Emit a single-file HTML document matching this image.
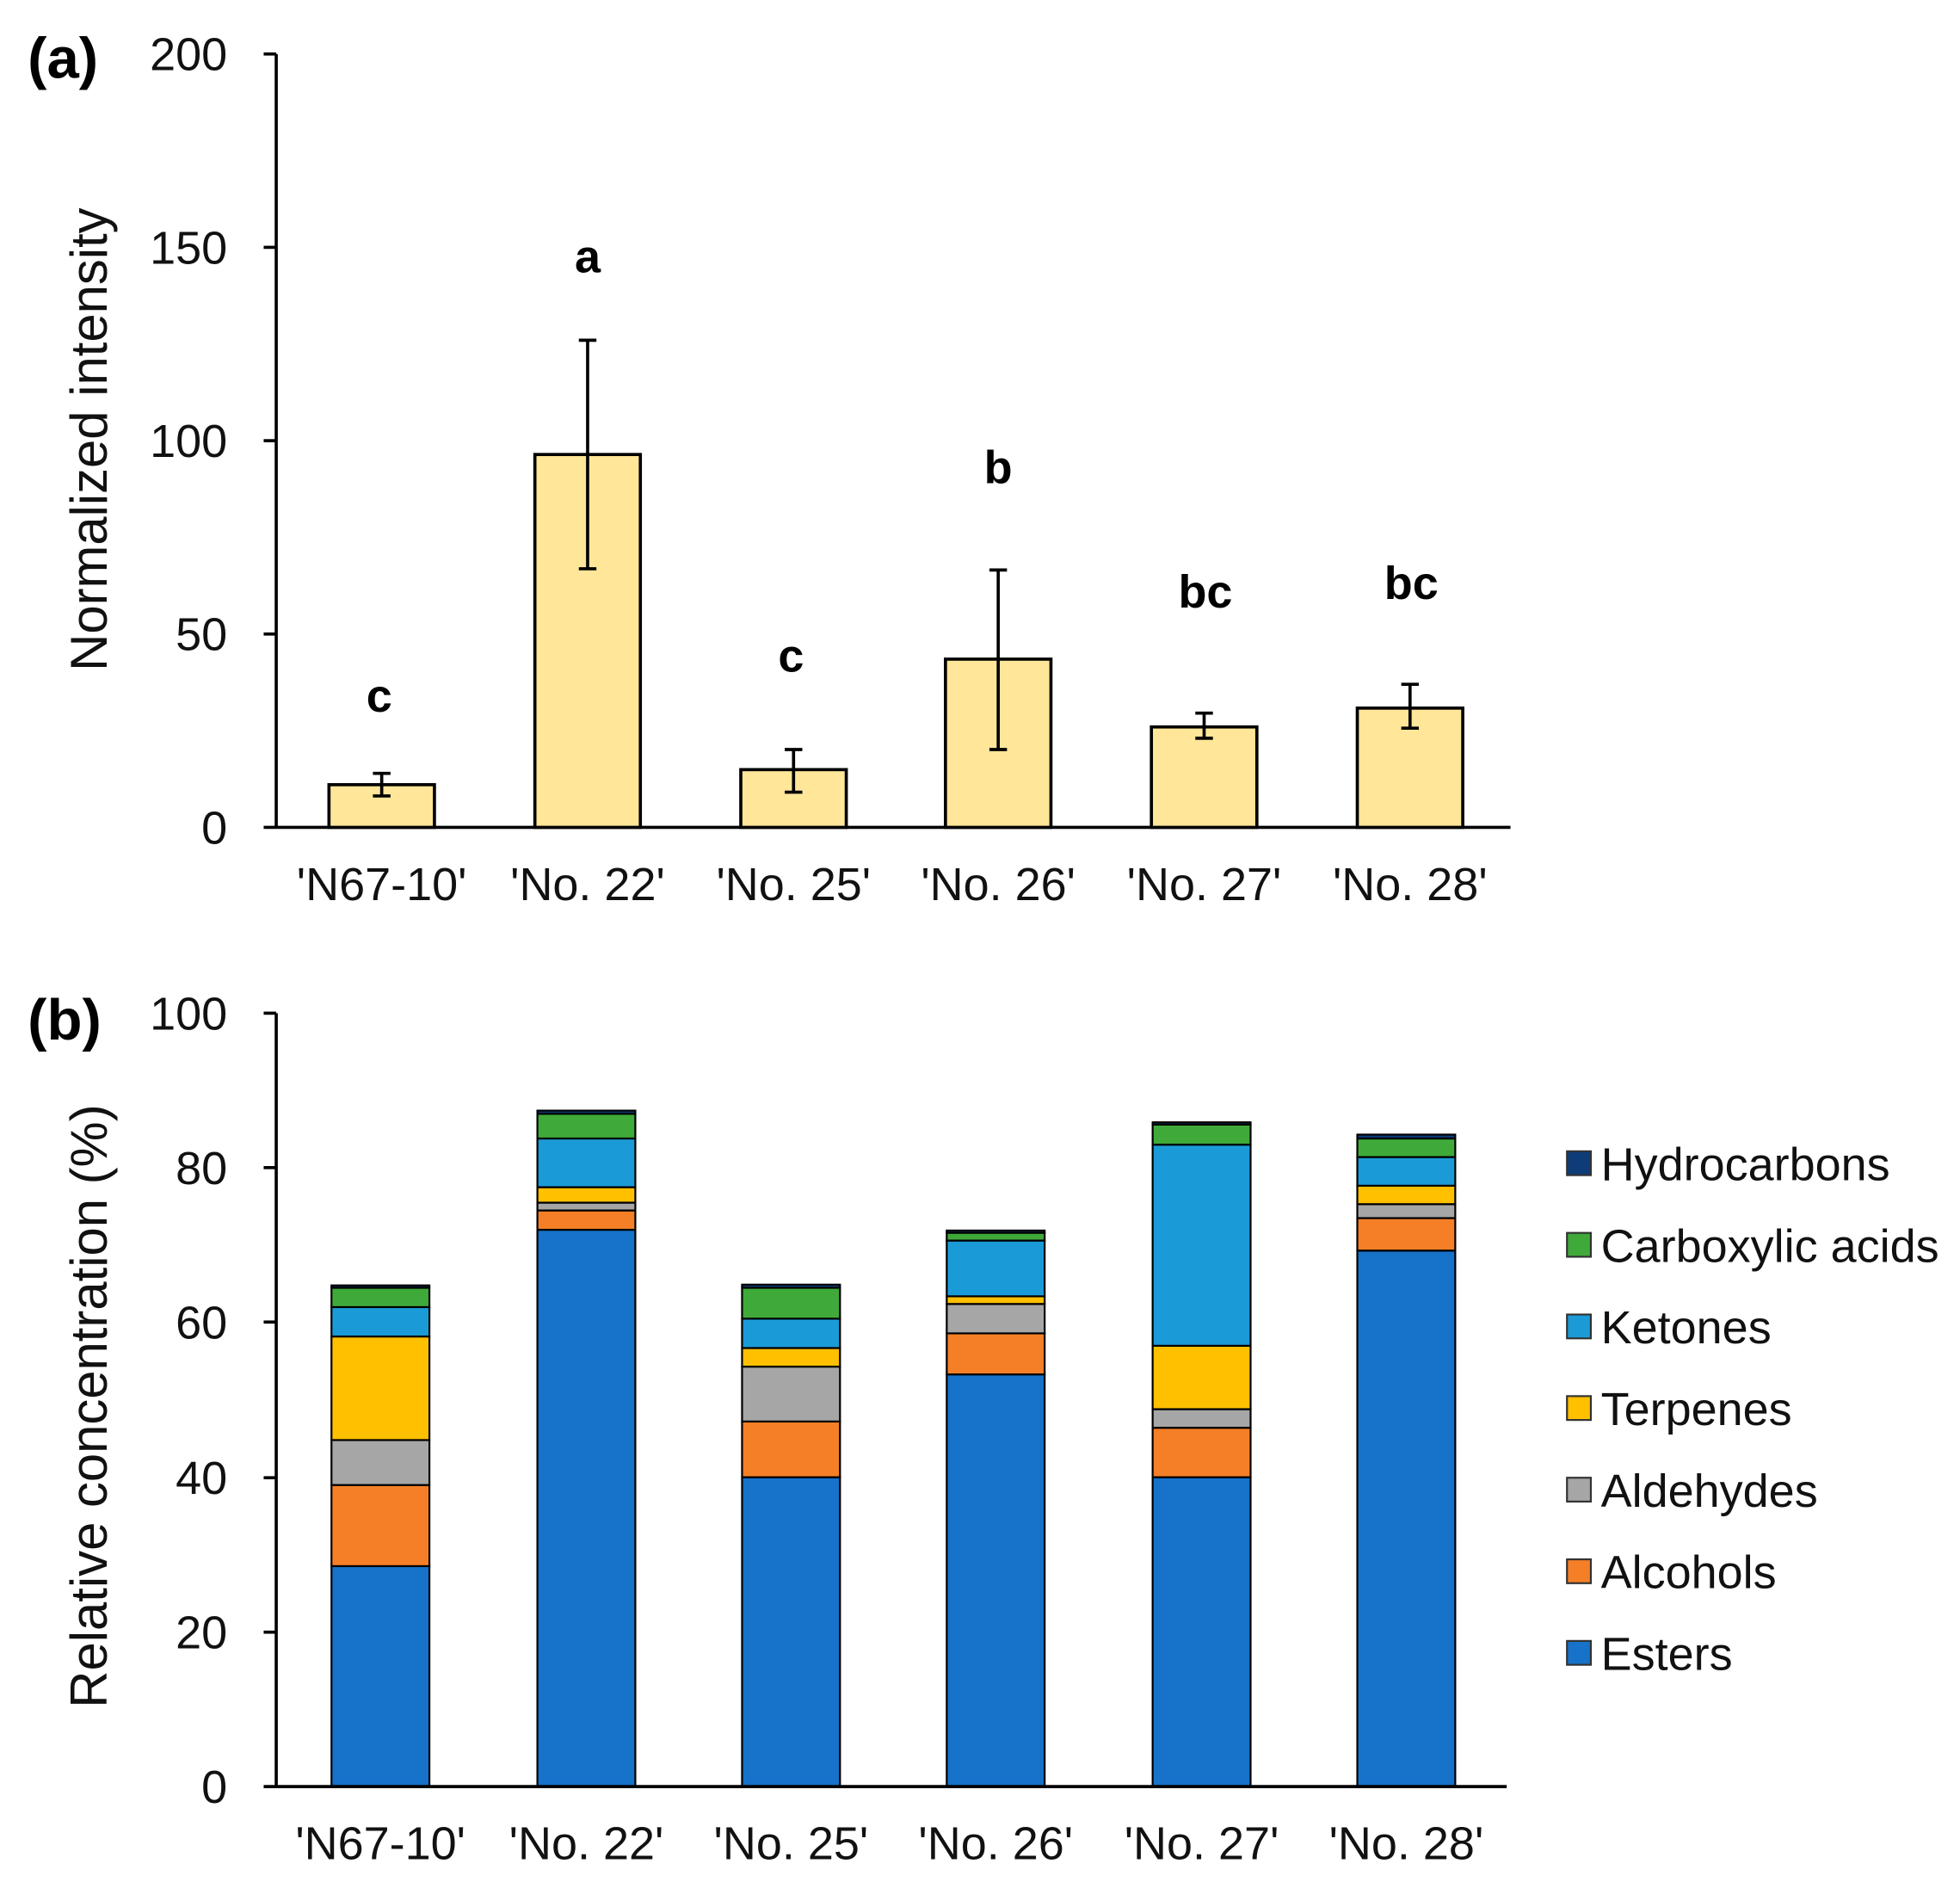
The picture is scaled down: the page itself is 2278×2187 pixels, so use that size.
<!DOCTYPE html>
<html><head><meta charset="utf-8"><style>html,body{margin:0;padding:0;background:#fff}svg{display:block}text{font-family:"Liberation Sans",Arial,sans-serif}</style></head><body>
<svg width="2278" height="2187" viewBox="0 0 1561 1499" preserveAspectRatio="none" xmlns="http://www.w3.org/2000/svg">
<g font-size="37" fill="#111" text-anchor="end">
<text x="181" y="56">200</text><text x="181" y="210">150</text><text x="181" y="364">100</text><text x="181" y="518">50</text><text x="181" y="672">0</text>
</g>
<g stroke="#000" stroke-width="2.5">
<line x1="220" y1="43" x2="220" y2="659"/><line x1="210" y1="659" x2="1203" y2="659"/>
<line x1="210" y1="43" x2="220" y2="43"/><line x1="210" y1="197" x2="220" y2="197"/><line x1="210" y1="351" x2="220" y2="351"/><line x1="210" y1="505" x2="220" y2="505"/>
</g>
<text x="85" y="350" font-size="41" fill="#111" text-anchor="middle" transform="rotate(-90 85 350)">Normalized intensity</text>
<text x="22" y="62" font-size="46" font-weight="bold">(a)</text>
<g fill="#FFE699" stroke="#000" stroke-width="2.5">
<rect x="262" y="625" width="84" height="34"/><rect x="426" y="362" width="84" height="297"/><rect x="590" y="613" width="84" height="46"/><rect x="753" y="525" width="84" height="134"/><rect x="917" y="579" width="84" height="80"/><rect x="1081" y="564" width="84" height="95"/>
</g>
<g stroke="#000" stroke-width="2.5" fill="none">
<path d="M304 616V634M297 634H311M297 616H311"/>
<path d="M468 271V453M461 271H475M461 453H475"/>
<path d="M632 597V631M625 597H639M625 631H639"/>
<path d="M795 454V597M788 454H802M788 597H802"/>
<path d="M959 568V588M952 568H966M952 588H966"/>
<path d="M1123 545V580M1116 545H1130M1116 580H1130"/>
</g>
<g font-size="37" font-weight="bold" text-anchor="middle">
<text x="302" y="567">c</text><text x="468" y="217">a</text><text x="630" y="535">c</text><text x="795" y="385">b</text><text x="960" y="484">bc</text><text x="1124" y="477">bc</text>
</g>
<g font-size="37" fill="#111" text-anchor="middle">
<text x="304" y="717">'N67-10'</text><text x="468" y="717">'No. 22'</text><text x="632" y="717">'No. 25'</text><text x="795" y="717">'No. 26'</text><text x="959" y="717">'No. 27'</text><text x="1123" y="717">'No. 28'</text>
</g>
<text x="22" y="828" font-size="46" font-weight="bold">(b)</text>
<g font-size="37" fill="#111" text-anchor="end">
<text x="181" y="820">100</text><text x="181" y="943">80</text><text x="181" y="1066">60</text><text x="181" y="1190">40</text><text x="181" y="1313">20</text><text x="181" y="1436">0</text>
</g>
<text x="85" y="1120" font-size="41" fill="#111" text-anchor="middle" transform="rotate(-90 85 1120)">Relative concentration (%)</text>
<g stroke="#000" stroke-width="1.5">
<g transform="translate(264 0)">
<rect y="1247.4" width="78" height="175.6" fill="#1772c9"/><rect y="1182.8" width="78" height="64.6" fill="#F57F27"/><rect y="1147" width="78" height="35.8" fill="#a6a6a6"/><rect y="1064.5" width="78" height="82.5" fill="#FFC000"/><rect y="1041.1" width="78" height="23.4" fill="#1a9bd7"/><rect y="1025.7" width="78" height="15.4" fill="#3faa3a"/><rect y="1023.8" width="78" height="1.9" fill="#0d3c78"/>
</g>
<g transform="translate(428 0)">
<rect y="979.5" width="78" height="443.5" fill="#1772c9"/><rect y="964.1" width="78" height="15.4" fill="#F57F27"/><rect y="957.9" width="78" height="6.2" fill="#a6a6a6"/><rect y="945.6" width="78" height="12.3" fill="#FFC000"/><rect y="906.8" width="78" height="38.8" fill="#1a9bd7"/><rect y="887.1" width="78" height="19.7" fill="#3faa3a"/><rect y="884.6" width="78" height="2.5" fill="#0d3c78"/>
</g>
<g transform="translate(591 0)">
<rect y="1176.6" width="78" height="246.4" fill="#1772c9"/><rect y="1132.2" width="78" height="44.4" fill="#F57F27"/><rect y="1088.5" width="78" height="43.7" fill="#a6a6a6"/><rect y="1073.7" width="78" height="14.8" fill="#FFC000"/><rect y="1050.3" width="78" height="23.4" fill="#1a9bd7"/><rect y="1025.7" width="78" height="24.6" fill="#3faa3a"/><rect y="1023.2" width="78" height="2.5" fill="#0d3c78"/>
</g>
<g transform="translate(754 0)">
<rect y="1094.7" width="78" height="328.3" fill="#1772c9"/><rect y="1062" width="78" height="32.7" fill="#F57F27"/><rect y="1038.6" width="78" height="23.4" fill="#a6a6a6"/><rect y="1032.5" width="78" height="6.1" fill="#FFC000"/><rect y="988.1" width="78" height="44.4" fill="#1a9bd7"/><rect y="981.9" width="78" height="6.2" fill="#3faa3a"/><rect y="980.1" width="78" height="1.8" fill="#0d3c78"/>
</g>
<g transform="translate(918 0)">
<rect y="1176.6" width="78" height="246.4" fill="#1772c9"/><rect y="1137.2" width="78" height="39.4" fill="#F57F27"/><rect y="1122.4" width="78" height="14.8" fill="#a6a6a6"/><rect y="1071.9" width="78" height="50.5" fill="#FFC000"/><rect y="911.7" width="78" height="160.2" fill="#1a9bd7"/><rect y="895.7" width="78" height="16" fill="#3faa3a"/><rect y="893.9" width="78" height="1.8" fill="#0d3c78"/>
</g>
<g transform="translate(1081 0)">
<rect y="996.1" width="78" height="426.9" fill="#1772c9"/><rect y="970.2" width="78" height="25.9" fill="#F57F27"/><rect y="959.1" width="78" height="11.1" fill="#a6a6a6"/><rect y="944.4" width="78" height="14.7" fill="#FFC000"/><rect y="921.6" width="78" height="22.8" fill="#1a9bd7"/><rect y="906.8" width="78" height="14.8" fill="#3faa3a"/><rect y="903.7" width="78" height="3.1" fill="#0d3c78"/>
</g>
</g>
<g stroke="#000" stroke-width="2.5">
<line x1="220" y1="807" x2="220" y2="1423"/><line x1="210" y1="1423" x2="1200" y2="1423"/>
<line x1="210" y1="807" x2="220" y2="807"/><line x1="210" y1="930" x2="220" y2="930"/><line x1="210" y1="1053" x2="220" y2="1053"/><line x1="210" y1="1177" x2="220" y2="1177"/><line x1="210" y1="1300" x2="220" y2="1300"/>
</g>
<g font-size="37" fill="#111" text-anchor="middle">
<text x="303" y="1481">'N67-10'</text><text x="467" y="1481">'No. 22'</text><text x="630" y="1481">'No. 25'</text><text x="793" y="1481">'No. 26'</text><text x="957" y="1481">'No. 27'</text><text x="1120" y="1481">'No. 28'</text>
</g>
<g stroke="#333" stroke-width="1.5">
<rect x="1248" y="917" width="19" height="19" fill="#0d3c78"/>
<rect x="1248" y="982" width="19" height="19" fill="#3faa3a"/>
<rect x="1248" y="1047" width="19" height="19" fill="#1a9bd7"/>
<rect x="1248" y="1112" width="19" height="19" fill="#FFC000"/>
<rect x="1248" y="1177" width="19" height="19" fill="#a6a6a6"/>
<rect x="1248" y="1242" width="19" height="19" fill="#F57F27"/>
<rect x="1248" y="1307" width="19" height="19" fill="#1772c9"/>
</g>
<g font-size="37" fill="#111">
<text x="1275" y="940">Hydrocarbons</text><text x="1275" y="1005">Carboxylic acids</text><text x="1275" y="1070">Ketones</text><text x="1275" y="1135">Terpenes</text><text x="1275" y="1200">Aldehydes</text><text x="1275" y="1265">Alcohols</text><text x="1275" y="1330">Esters</text>
</g>
</svg>
</body></html>
